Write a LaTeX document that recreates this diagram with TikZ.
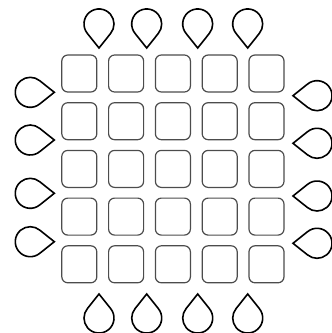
\documentclass[tikz,border=0pt]{standalone}

\begin{document}
\begin{tikzpicture}[x=1pt, y=-1pt,
  cell/.style={draw=black!70, line width=1.2pt, rounded corners=6pt,
    minimum width=35pt, minimum height=37pt, inner sep=0pt},
  drop/.pic={\draw[line width=1.6pt] (0,0) -- (-14.4,11.5)
    arc[start angle=50, end angle=310, radius=15] -- cycle;}]
\useasboundingbox (0,0) rectangle (332,333);
% 5x5 grid of cells
\foreach \i in {0,...,4}
  \foreach \j in {0,...,4}
    \node[cell] (c\i\j) at ({79.3+46.8*\i},{73.5+47.7*\j}) {};
% drops above and below the grid
\foreach \x in {99,146.7,197.7,247.7} {
  \pic[rotate=-90] at (\x,48) {drop};
  \pic[rotate=90] at (\x,294) {drop};
}
% drops left and right
\foreach \y in {92.3,140,193.3,241.7}
  \pic at (54.3,\y) {drop};
\foreach \y in {95.7,143.3,196,243.3}
  \pic[rotate=180] at (293,\y) {drop};
\end{tikzpicture}
\end{document}
